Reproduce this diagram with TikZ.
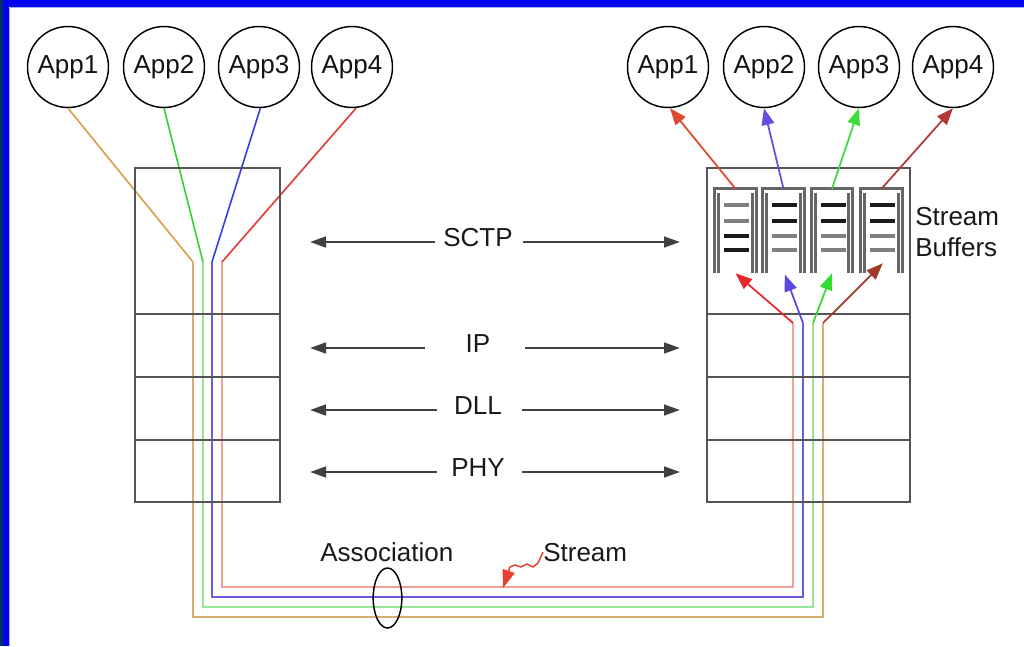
\documentclass[tikz,border=0pt]{standalone}
\usepackage{fontspec}
\setmainfont{Liberation Sans}
\usetikzlibrary{arrows.meta,shapes.geometric}

\definecolor{frameblue}{HTML}{0000F2}
\definecolor{framedark}{HTML}{00305E}
\definecolor{frameedge}{HTML}{A8B0FF}
\definecolor{boxgray}{HTML}{555555}
\definecolor{arrgray}{HTML}{404040}
\definecolor{stripegray}{HTML}{808080}
\definecolor{stripeblack}{HTML}{1A1A1A}
% upper (saturated) wire colours
\definecolor{wireorange}{HTML}{D89E48}
\definecolor{wiregreen}{HTML}{34D034}
\definecolor{wireblue}{HTML}{3C3CE4}
\definecolor{wirered}{HTML}{E03A3A}
% lower (light) wire colours
\definecolor{lowtan}{HTML}{D8AE70}
\definecolor{lowgreen}{HTML}{96E696}
\definecolor{lowblue}{HTML}{6A5CE0}
\definecolor{lowpink}{HTML}{F2A09A}
% delivery arrows
\definecolor{arrred}{HTML}{E82828}
\definecolor{arrblue}{HTML}{5A48E0}
\definecolor{arrgreen}{HTML}{30DC30}
\definecolor{arrbrown}{HTML}{A03A28}
\definecolor{uparrred}{HTML}{E04830}
\definecolor{uparrblue}{HTML}{6050E0}
\definecolor{uparrgreen}{HTML}{3CDC3C}
\definecolor{uparrdark}{HTML}{B03838}
\definecolor{streamred}{HTML}{E84030}

\newcommand\diagfont{\fontsize{19.5}{22}\selectfont}

\begin{document}
\begin{tikzpicture}[x=0.75pt,y={(0pt,-0.75pt)},
  app/.style={circle,draw=black,line width=1.1pt,minimum size=60.75pt,
    inner sep=0pt,font=\diagfont,text=black!92},
  lbl/.style={inner sep=0pt,font=\diagfont,text=black!90},
  stack/.style={draw=boxgray,line width=2.1pt},
  layerarr/.style={draw=arrgray,line width=1.9pt,
    -{Triangle[length=12pt,width=8pt]}},
  upwire/.style={line width=1.2pt},
  lowwire/.style={line width=1.9pt,line join=miter},
  deliver/.style={line width=1.3pt,-{Triangle[length=12.5pt,width=9.5pt]}},
  bufnode/.style={inner sep=0pt,minimum width=30.75pt,minimum height=63pt},
  bufline/.style={draw=boxgray!90,line width=2pt},
  stripe/.style={line width=2.3pt},
]
\useasboundingbox (0,0) rectangle (1024,646);
\fill[white] (0,0) rectangle (1024,646);

% window frame
\fill[frameblue] (0,0) rectangle (1024,7);
\fill[frameblue] (0,0) rectangle (9,646);
\fill[framedark] (0,0) rectangle (3,646);
\draw[frameedge,line width=0.8pt] (9.5,7.5) -- (1024,7.5);
\draw[frameedge,line width=0.8pt] (9.5,7.5) -- (9.5,646);

% application endpoints
\node[app] (lA1) at (68,67)  {App1};
\node[app] (lA2) at (164,67) {App2};
\node[app] (lA3) at (259,67) {App3};
\node[app] (lA4) at (352,67) {App4};
\node[app] (rA1) at (668,67) {App1};
\node[app] (rA2) at (764,67) {App2};
\node[app] (rA3) at (859,67) {App3};
\node[app] (rA4) at (953,67) {App4};

% points where the streams enter and leave the association
\coordinate (bend1) at (193,262);
\coordinate (bend2) at (203,262);
\coordinate (bend3) at (212,262);
\coordinate (bend4) at (222,262);
\coordinate (end1) at (823,323);
\coordinate (end2) at (813,323);
\coordinate (end3) at (803,323);
\coordinate (end4) at (793,323);

% streams from the sending applications
\draw[upwire,wireorange] (lA1.south) -- (bend1);
\draw[upwire,wiregreen]  (lA2.south) -- (bend2);
\draw[upwire,wireblue]   ([xshift=1pt]lA3.south) -- (bend3);
\draw[upwire,wirered]    ([xshift=3pt]lA4.south) -- (bend4);

% the streams carried through the association
\draw[lowwire,lowtan]   (bend1) -- (193,617) -- (823,617) -- (end1);
\draw[lowwire,lowgreen] (bend2) -- (203,607) -- (813,607) -- (end2);
\draw[lowwire,lowblue]  (bend3) -- (212,597) -- (803,597) -- (end3);
\draw[lowwire,lowpink]  (bend4) -- (222,587) -- (793,587) -- (end4);

% protocol stacks
\draw[stack] (135,168) rectangle (280,502);
\draw[stack] (135,314) -- (280,314);
\draw[stack] (135,377) -- (280,377);
\draw[stack] (135,440) -- (280,440);
\draw[stack] (707,168) rectangle (910,502);
\draw[stack] (707,314) -- (910,314);
\draw[stack] (707,377) -- (910,377);
\draw[stack] (707,440) -- (910,440);

% peer layers
\foreach \nm/\txt/\yy/\xa/\xb in {sctp/SCTP/242/435/523, ip/IP/348/425/525,
    dll/DLL/410/437/522, phy/PHY/472/437/522} {
  \node[lbl,anchor=base] (\nm) at (478,\yy+4) {\txt};
  \draw[layerarr] (\xa,\yy) -- (310,\yy);
  \draw[layerarr] (\xb,\yy) -- (680,\yy);
}

% stream buffers
\foreach \i/\cx/\ca/\cb/\cc/\cd in {1/735.5/stripegray/stripegray/stripeblack/stripeblack,
    2/783.5/stripeblack/stripeblack/stripegray/stripegray,
    3/832/stripeblack/stripeblack/stripegray/stripegray,
    4/881.5/stripeblack/stripeblack/stripegray/stripegray} {
  \node[bufnode] (buf\i) at (\cx,231) {};
  \draw[bufline] (buf\i.south west) -- (buf\i.north west) -- (buf\i.north east) -- (buf\i.south east);
  \draw[bufline] ([xshift=3pt,yshift=-3pt]buf\i.north west) -- ([xshift=3pt]buf\i.south west);
  \draw[bufline] ([xshift=-3pt,yshift=-3pt]buf\i.north east) -- ([xshift=-3pt]buf\i.south east);
  \draw[stripe,\ca] (\cx-11.5,205) -- (\cx+13.5,205);
  \draw[stripe,\cb] (\cx-11.5,221) -- (\cx+13.5,221);
  \draw[stripe,\cc] (\cx-11.5,236) -- (\cx+13.5,236);
  \draw[stripe,\cd] (\cx-11.5,250) -- (\cx+13.5,250);
}
\node[lbl,anchor=base west] (sbufA) at (915,225) {Stream};
\node[lbl,anchor=base west] (sbufB) at (915,256) {Buffers};

% streams into their buffers
\draw[deliver,arrred]   (end4) -- (buf1.south);
\draw[deliver,arrblue]  (end3) -- ([xshift=1pt,yshift=-1pt]buf2.south);
\draw[deliver,arrgreen] (end2) -- (buf3.south);
\draw[deliver,arrbrown] (end1) -- ([xshift=1pt,yshift=7.5pt]buf4.south);

% buffers delivering to the receiving applications
\draw[deliver,uparrred]   (buf1.north) -- ([xshift=1.5pt]rA1.south);
\draw[deliver,uparrblue]  (buf2.north) -- (rA2.south);
\draw[deliver,uparrgreen] (buf3.north) -- (rA3.south);
\draw[deliver,uparrdark]  (buf4.north) -- (rA4.south);

% association and stream labels
\node[draw=black,line width=1.1pt,ellipse,inner sep=0pt,minimum width=21.5pt,
  minimum height=45pt] (assoc) at (387.5,598) {};
\node[lbl,anchor=base west] (assoclbl) at (320,561) {Association};
\node[lbl,anchor=base west] (streamlbl) at (543,561) {Stream};
\coordinate (streamtip) at (503,588);
\draw[streamred,line width=1.1pt,line join=round,
  -{Triangle[length=13.5pt,width=9.5pt]}]
  (streamlbl.west) -- (538,563) -- (533,567) -- (527,564) -- (521,567)
  -- (515,565) -- (510,567) -- (streamtip);
\end{tikzpicture}
\end{document}
